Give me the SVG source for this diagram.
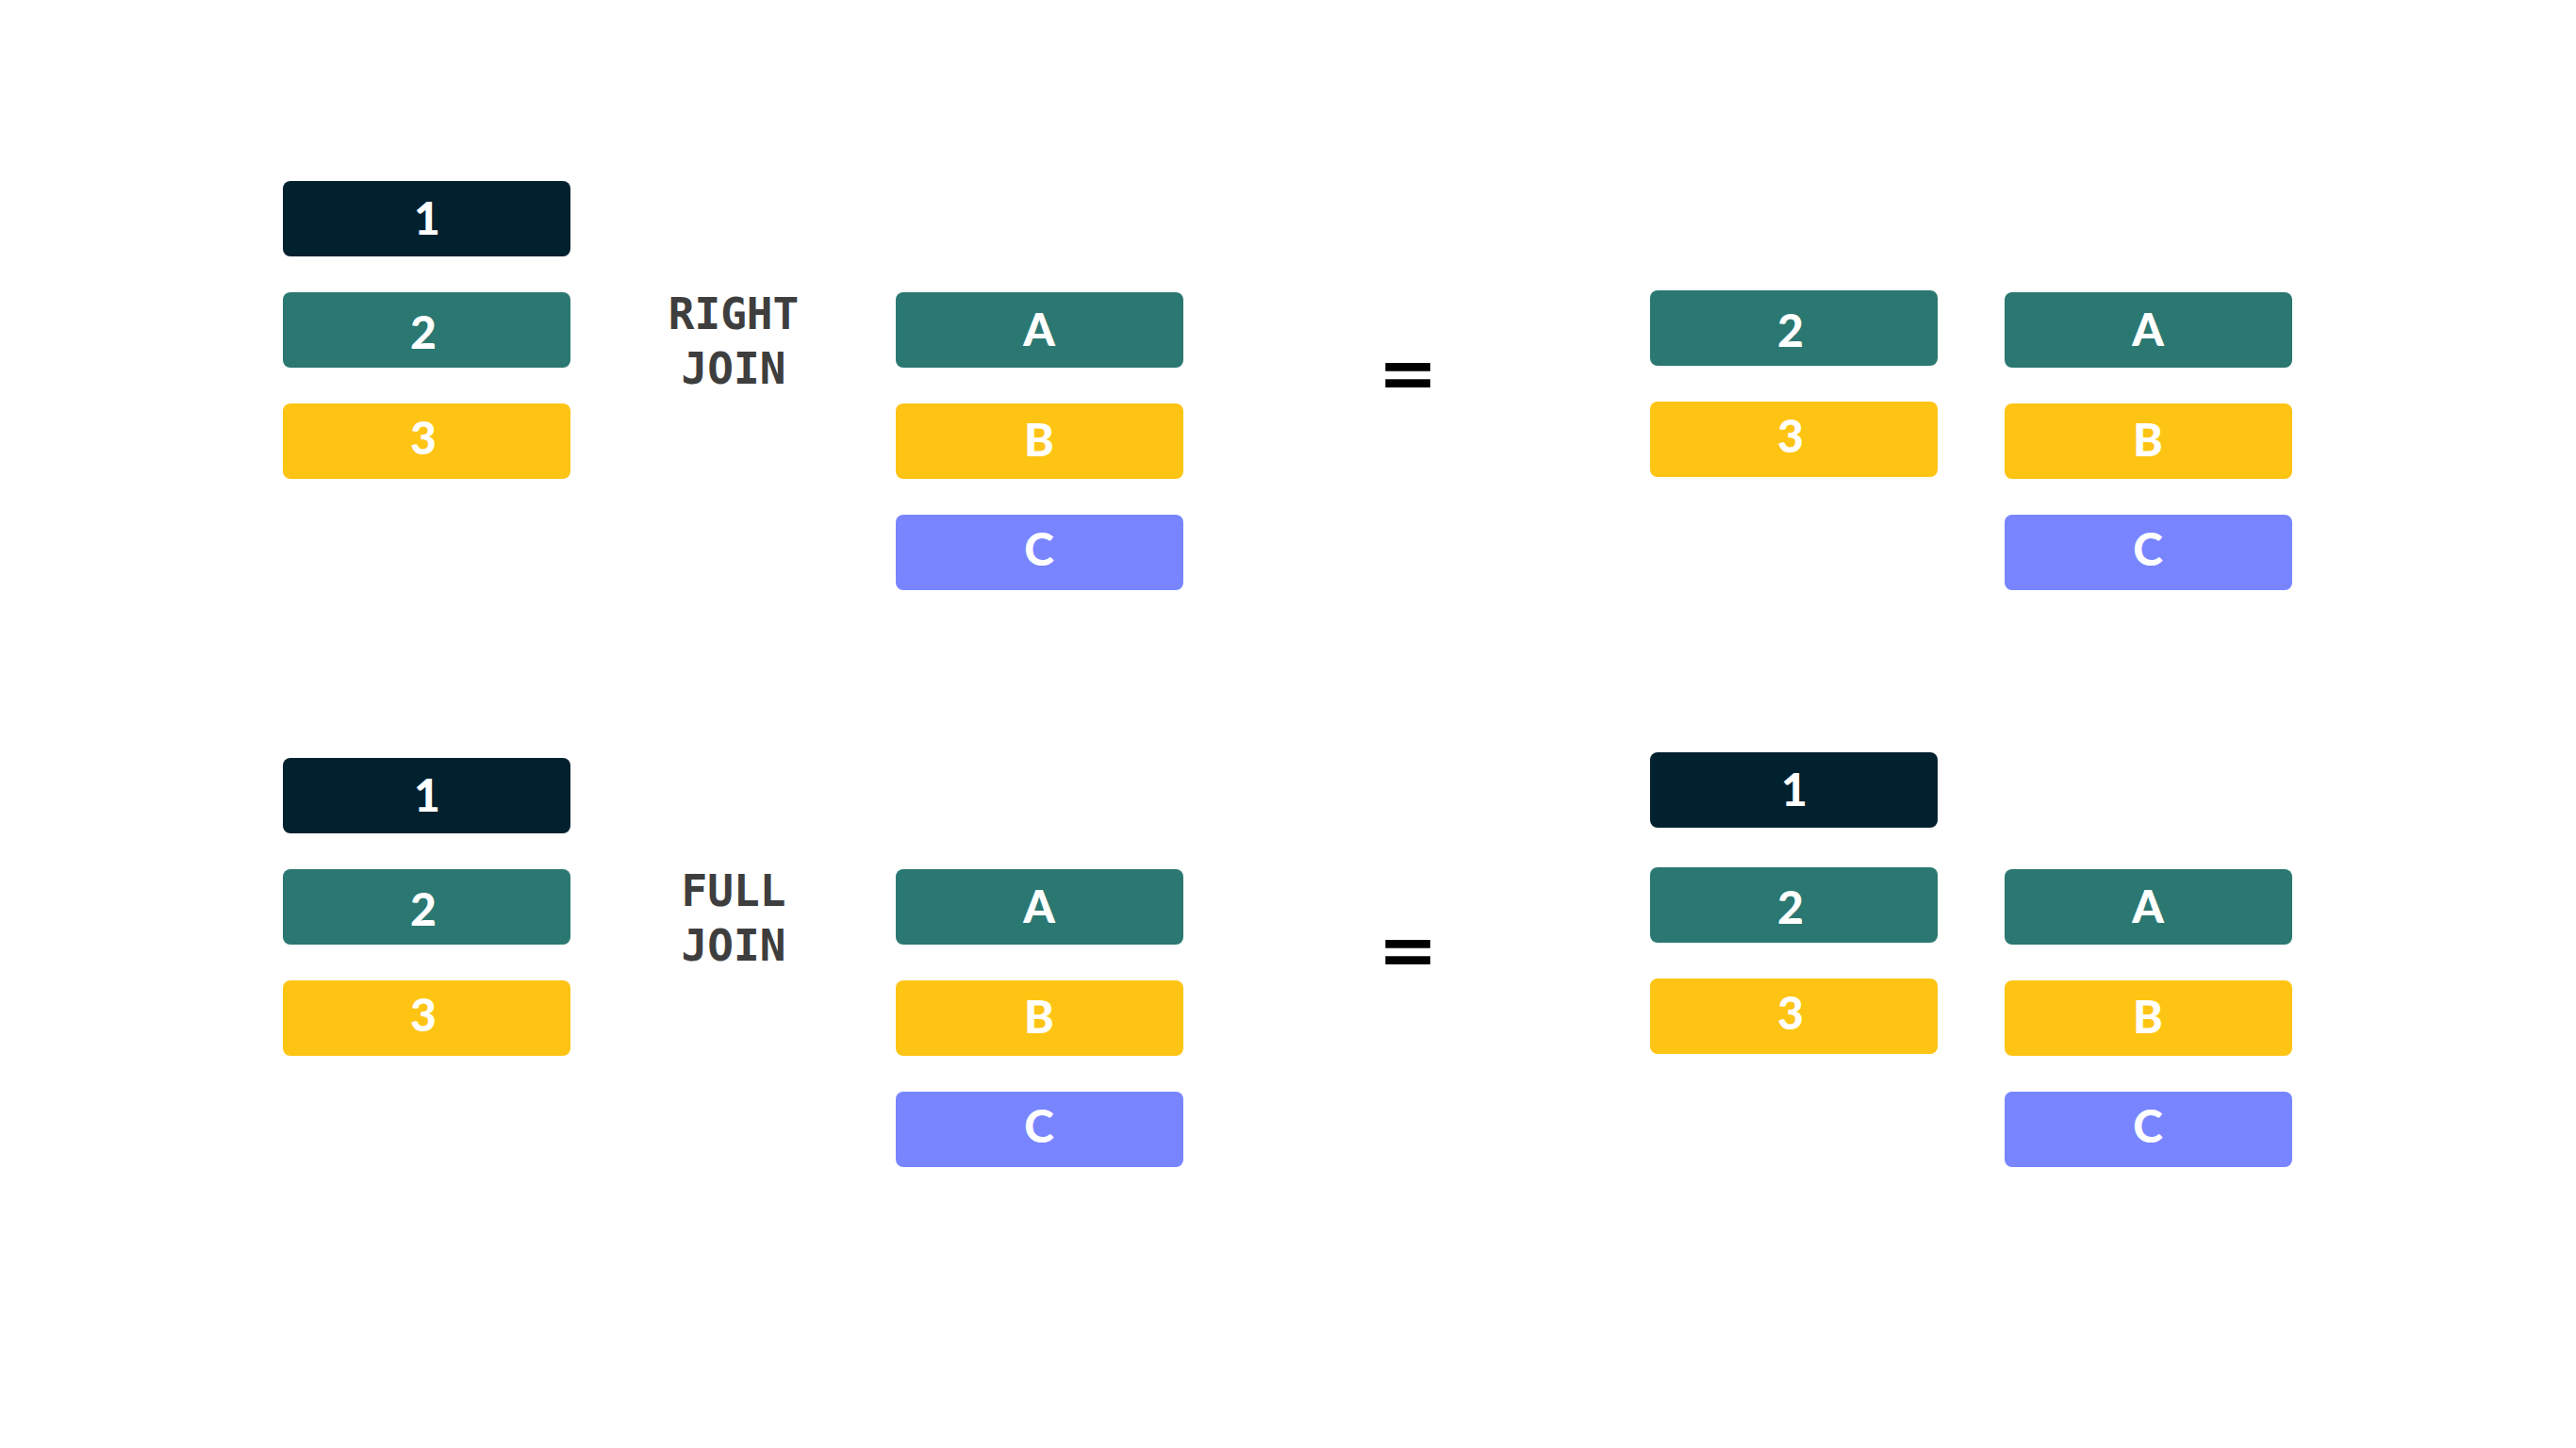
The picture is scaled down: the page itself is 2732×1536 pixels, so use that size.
<svg xmlns="http://www.w3.org/2000/svg" width="2732" height="1536" viewBox="0 0 2732 1536">
<style>
.box{stroke:none}
.n{fill:#02212F}
.t{fill:#2A7871}
.y{fill:#FEC414}
.p{fill:#7885FF}
.lbl{font-family:Lato,"Noto Sans",sans-serif;font-weight:900;font-size:48px;fill:#FFFFFF;text-anchor:middle}
.op{font-family:"DejaVu Sans Mono","Liberation Mono",monospace;font-weight:700;font-size:46px;fill:#3E3E3E;text-anchor:middle}
.eq{font-family:"DejaVu Sans","Liberation Sans",sans-serif;font-weight:700;font-size:76px;fill:#000000;text-anchor:middle}
</style>
<rect width="2732" height="1536" fill="#FFFFFF"/>
<g id="top">
  <g id="t-l1"><rect class="box n" x="300" y="192" width="305" height="80" rx="8"/><text class="lbl" x="453" y="249">1</text></g>
  <g id="t-l2"><rect class="box t" x="300" y="310" width="305" height="80" rx="8"/><text class="lbl" x="449" y="370">2</text></g>
  <g id="t-l3"><rect class="box y" x="300" y="428" width="305" height="80" rx="8"/><text class="lbl" x="449" y="482">3</text></g>
  <g id="t-op"><text class="op" x="778" y="349">RIGHT</text><text class="op" x="778" y="407">JOIN</text></g>
  <g id="t-mA"><rect class="box t" x="950" y="310" width="305" height="80" rx="8"/><text class="lbl" x="1102" y="367">A</text></g>
  <g id="t-mB"><rect class="box y" x="950" y="428" width="305" height="80" rx="8"/><text class="lbl" x="1102" y="484">B</text></g>
  <g id="t-mC"><rect class="box p" x="950" y="546" width="305" height="80" rx="8"/><text class="lbl" x="1102" y="600">C</text></g>
  <g id="t-eq"><text class="eq" x="1493" y="422">=</text></g>
  <g id="t-r2"><rect class="box t" x="1750" y="308" width="305" height="80" rx="8"/><text class="lbl" x="1899" y="368">2</text></g>
  <g id="t-r3"><rect class="box y" x="1750" y="426" width="305" height="80" rx="8"/><text class="lbl" x="1899" y="480">3</text></g>
  <g id="t-rA"><rect class="box t" x="2126" y="310" width="305" height="80" rx="8"/><text class="lbl" x="2278" y="367">A</text></g>
  <g id="t-rB"><rect class="box y" x="2126" y="428" width="305" height="80" rx="8"/><text class="lbl" x="2278" y="484">B</text></g>
  <g id="t-rC"><rect class="box p" x="2126" y="546" width="305" height="80" rx="8"/><text class="lbl" x="2278" y="600">C</text></g>
</g>
<g id="bottom">
  <g id="b-l1"><rect class="box n" x="300" y="804" width="305" height="80" rx="8"/><text class="lbl" x="453" y="861">1</text></g>
  <g id="b-l2"><rect class="box t" x="300" y="922" width="305" height="80" rx="8"/><text class="lbl" x="449" y="982">2</text></g>
  <g id="b-l3"><rect class="box y" x="300" y="1040" width="305" height="80" rx="8"/><text class="lbl" x="449" y="1094">3</text></g>
  <g id="b-op"><text class="op" x="778" y="961">FULL</text><text class="op" x="778" y="1019">JOIN</text></g>
  <g id="b-mA"><rect class="box t" x="950" y="922" width="305" height="80" rx="8"/><text class="lbl" x="1102" y="979">A</text></g>
  <g id="b-mB"><rect class="box y" x="950" y="1040" width="305" height="80" rx="8"/><text class="lbl" x="1102" y="1096">B</text></g>
  <g id="b-mC"><rect class="box p" x="950" y="1158" width="305" height="80" rx="8"/><text class="lbl" x="1102" y="1212">C</text></g>
  <g id="b-eq"><text class="eq" x="1493" y="1034">=</text></g>
  <g id="b-r1"><rect class="box n" x="1750" y="798" width="305" height="80" rx="8"/><text class="lbl" x="1903" y="855">1</text></g>
  <g id="b-r2"><rect class="box t" x="1750" y="920" width="305" height="80" rx="8"/><text class="lbl" x="1899" y="980">2</text></g>
  <g id="b-r3"><rect class="box y" x="1750" y="1038" width="305" height="80" rx="8"/><text class="lbl" x="1899" y="1092">3</text></g>
  <g id="b-rA"><rect class="box t" x="2126" y="922" width="305" height="80" rx="8"/><text class="lbl" x="2278" y="979">A</text></g>
  <g id="b-rB"><rect class="box y" x="2126" y="1040" width="305" height="80" rx="8"/><text class="lbl" x="2278" y="1096">B</text></g>
  <g id="b-rC"><rect class="box p" x="2126" y="1158" width="305" height="80" rx="8"/><text class="lbl" x="2278" y="1212">C</text></g>
</g>
<g id="connectors"/>
</svg>
